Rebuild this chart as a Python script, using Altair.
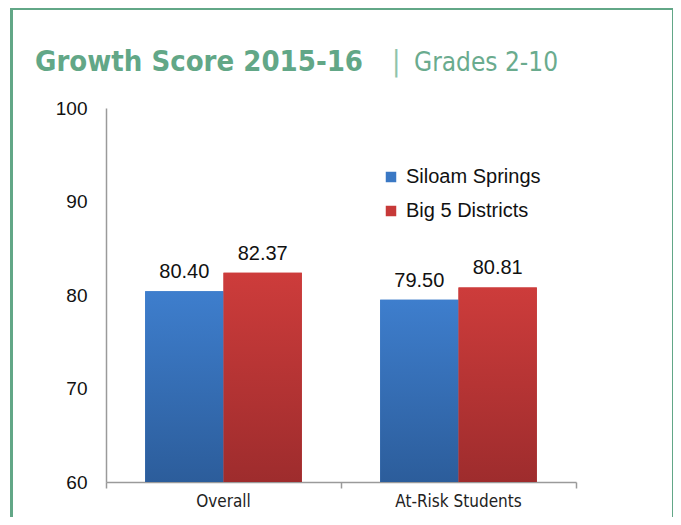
import altair as alt
import pandas as pd

categories = ["Overall", "At-Risk Students"]
series = ["Siloam Springs", "Big 5 Districts"]
siloam = [80.40, 79.50]
big5 = [82.37, 80.81]
y_ticks = [60, 70, 80, 90, 100]

rows = []
for i, c in enumerate(categories):
    rows.append({"category": c, "series": series[0], "value": siloam[i]})
    rows.append({"category": c, "series": series[1], "value": big5[i]})
df = pd.DataFrame(rows)

GREEN = "#62a787"
NARROW = "DejaVu Sans Condensed, Liberation Sans Narrow, Arial Narrow, sans-serif"
SANS = "Liberation Sans, Arial, sans-serif"
flat = ["#3a78c4", "#c73938"]
grads = {
    series[0]: ("#3e7ecd", "#2c5d9b"),
    series[1]: ("#cd3c3b", "#9e2c2d"),
}

x_enc = alt.X("category:N", sort=categories, scale=alt.Scale(paddingInner=0, paddingOuter=0),
              axis=alt.Axis(title=None, labelAngle=0, labelFont=NARROW,
                            labelFontSize=17, labelColor="#222", labelPadding=5,
                            ticks=True, tickSize=6, tickColor="#9a9a9a", tickWidth=1.5,
                            bandPosition=1, tickExtra=True,
                            domainColor="#9a9a9a", domainWidth=1.5))
xo_enc = alt.XOffset("series:N", sort=series, scale=alt.Scale(paddingInner=0, paddingOuter=0.5))
y_enc = alt.Y("value:Q", scale=alt.Scale(domain=[60, 100], zero=False, nice=False),
              axis=alt.Axis(title=None, values=y_ticks, ticks=False, grid=False,
                            labelFont=SANS, labelFontSize=19, labelColor="#111",
                            labelPadding=19, domainColor="#9a9a9a", domainWidth=1.5))

base = alt.Chart(df)

flat_bars = base.mark_bar().encode(
    x=x_enc, xOffset=xo_enc, y=y_enc, y2=alt.datum(60),
    color=alt.Color("series:N", sort=series,
                    scale=alt.Scale(domain=series, range=flat),
                    legend=alt.Legend(title=None, orient="none", legendX=275, legendY=59,
                                      symbolType="square", symbolSize=110, symbolStrokeWidth=0,
                                      labelFont=SANS, labelFontSize=20,
                                      labelColor="#111", labelOffset=5, rowPadding=14,
                                      padding=0)),
)

grad_layers = []
for s in series:
    top, bot = grads[s]
    g = alt.Gradient(gradient="linear",
                     stops=[alt.GradientStop(color=top, offset=0),
                            alt.GradientStop(color=bot, offset=1)],
                     x1=0, x2=0, y1=0, y2=1)
    grad_layers.append(
        base.transform_filter(alt.datum.series == s).mark_bar(fill=g).encode(
            x=x_enc, xOffset=xo_enc, y=y_enc, y2=alt.datum(60))
    )

labels = base.mark_text(baseline="alphabetic", dy=-13, font=SANS,
                        fontSize=20, color="#111").encode(
    x=x_enc, xOffset=xo_enc, y=y_enc, text=alt.Text("value:Q", format=".2f"))

one = pd.DataFrame({"t": ["Growth Score 2015-16"]})
frame = alt.Chart(one).mark_rect(fill=None, stroke=GREEN, strokeWidth=3).encode(
    x=alt.value(-94.5), x2=alt.value(567.5), y=alt.value(-99.5), y2=alt.value(440))
title = alt.Chart(one).mark_text(align="left", baseline="alphabetic",
                                 font=NARROW, fontWeight="bold",
                                 fontSize=29, color=GREEN).encode(
    x=alt.value(-71), y=alt.value(-37), text="t:N")
pipe = alt.Chart(pd.DataFrame({"t": ["|"]})).mark_text(
    align="left", baseline="alphabetic", font=NARROW,
    fontSize=28, color="#8fc3ab").encode(x=alt.value(286), y=alt.value(-37), text="t:N")
sub = alt.Chart(pd.DataFrame({"t": ["Grades 2-10"]})).mark_text(
    align="left", baseline="alphabetic", font=NARROW,
    fontSize=26, color="#6aab8e").encode(x=alt.value(308), y=alt.value(-37), text="t:N")

chart = alt.layer(frame, flat_bars, *grad_layers, labels, title, pipe, sub).properties(
    width=470, height=374,
    autosize=alt.AutoSizeParams(type="none"),
    padding={"left": 98, "top": 100, "right": 97, "bottom": 35},
).configure_view(stroke=None)

chart.save("out.html", embed_options={"renderer": "svg", "actions": False})
